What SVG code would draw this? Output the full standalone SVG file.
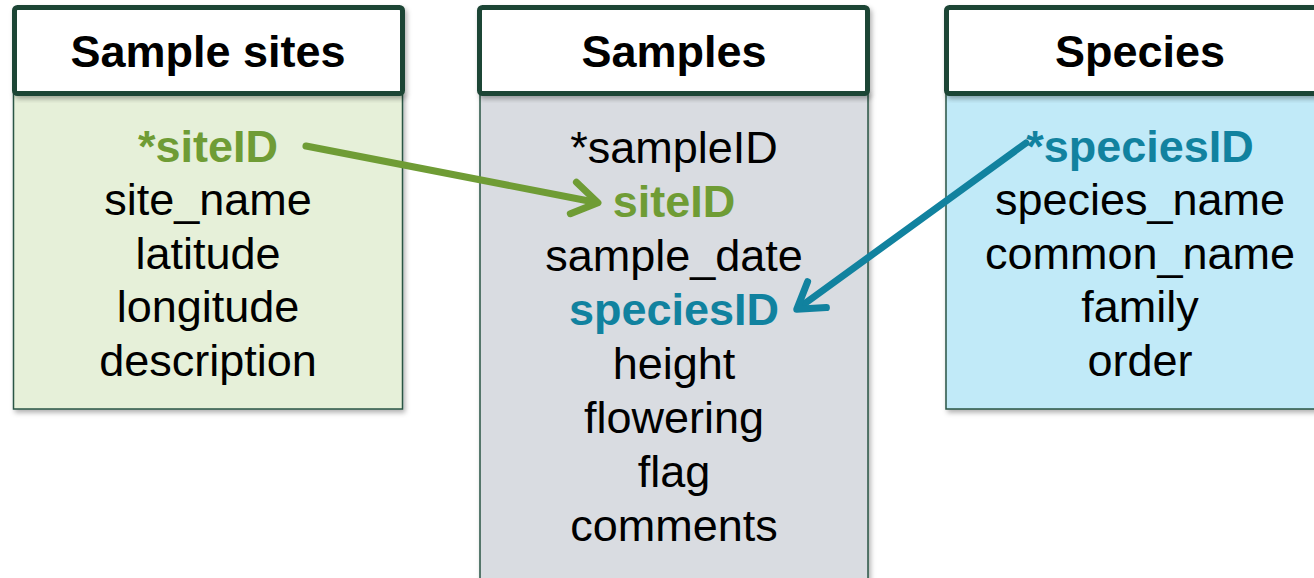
<svg xmlns="http://www.w3.org/2000/svg" width="1314" height="578" viewBox="0 0 1314 578">
  <defs>
    <filter id="shadow" x="-5%" y="-5%" width="115%" height="115%">
      <feDropShadow dx="2" dy="3" stdDeviation="2.5" flood-color="#000" flood-opacity="0.3"/>
    </filter>
    <marker id="head-green" markerUnits="userSpaceOnUse" viewBox="-32 -22 40 44" markerWidth="40" markerHeight="44" refX="-4" refY="0" orient="auto">
      <path d="M-25,-16 L0,0 L-25,16" fill="none" stroke="#6f9c35" stroke-width="7" stroke-linecap="round" stroke-linejoin="round"/>
    </marker>
    <marker id="head-blue" markerUnits="userSpaceOnUse" viewBox="-32 -22 40 44" markerWidth="40" markerHeight="44" refX="-4" refY="0" orient="auto">
      <path d="M-25,-16 L0,0 L-25,16" fill="none" stroke="#11829f" stroke-width="7" stroke-linecap="round" stroke-linejoin="round"/>
    </marker>
  </defs>
  <style>
    .body { stroke: #2a5444; stroke-width: 1.5; filter: url(#shadow); }
    .head { fill: #ffffff; stroke: #1b4434; stroke-width: 5; filter: url(#shadow); }
    .title { font-family: "Liberation Sans", Arial, sans-serif; font-weight: bold; font-size: 45px; fill: #000; text-anchor: middle; }
    .field { font-family: "Liberation Sans", Arial, sans-serif; font-size: 45px; fill: #000; text-anchor: middle; }
    .key-green { fill: #6f9c35; font-weight: bold; }
    .key-blue { fill: #11829f; font-weight: bold; }
    .link { fill: none; stroke-width: 7; stroke-linecap: round; }
  </style>

  <rect width="1314" height="578" fill="#ffffff"/>

  <!-- Sample sites table -->
  <g id="sample-sites">
    <rect class="body" x="13.5" y="92" width="389" height="317" fill="#e6f0d9"/>
    <rect class="head" x="14.5" y="7.5" width="388" height="86" rx="3"/>
    <text class="title" x="208" y="67">Sample sites</text>
    <text class="field key-green" x="208" y="162">*siteID</text>
    <text class="field" x="208" y="215">site_name</text>
    <text class="field" x="208" y="269">latitude</text>
    <text class="field" x="208" y="322">longitude</text>
    <text class="field" x="208" y="376">description</text>
  </g>

  <!-- Samples table -->
  <g id="samples">
    <rect class="body" x="480" y="92" width="388" height="500" fill="#d9dce1"/>
    <rect class="head" x="479.5" y="7.5" width="388" height="86" rx="3"/>
    <text class="title" x="674" y="67">Samples</text>
    <text class="field" x="674" y="163">*sampleID</text>
    <text class="field key-green" x="674" y="217">siteID</text>
    <text class="field" x="674" y="271">sample_date</text>
    <text class="field key-blue" x="674" y="325">speciesID</text>
    <text class="field" x="674" y="379">height</text>
    <text class="field" x="674" y="433">flowering</text>
    <text class="field" x="674" y="487">flag</text>
    <text class="field" x="674" y="541">comments</text>
  </g>

  <!-- Species table -->
  <g id="species">
    <rect class="body" x="946" y="92" width="380" height="317" fill="#c1eaf8"/>
    <rect class="head" x="946.5" y="7.5" width="380" height="86" rx="3"/>
    <text class="title" x="1140" y="67">Species</text>
    <text class="field key-blue" x="1140" y="162">*speciesID</text>
    <text class="field" x="1140" y="215">species_name</text>
    <text class="field" x="1140" y="269">common_name</text>
    <text class="field" x="1140" y="322">family</text>
    <text class="field" x="1140" y="376">order</text>
  </g>

  <!-- Foreign key links -->
  <g id="connectors">
    <line class="link" x1="306" y1="146" x2="594" y2="202" stroke="#6f9c35" marker-end="url(#head-green)"/>
    <line class="link" x1="1026" y1="143" x2="800" y2="307" stroke="#11829f" marker-end="url(#head-blue)"/>
  </g>
</svg>
